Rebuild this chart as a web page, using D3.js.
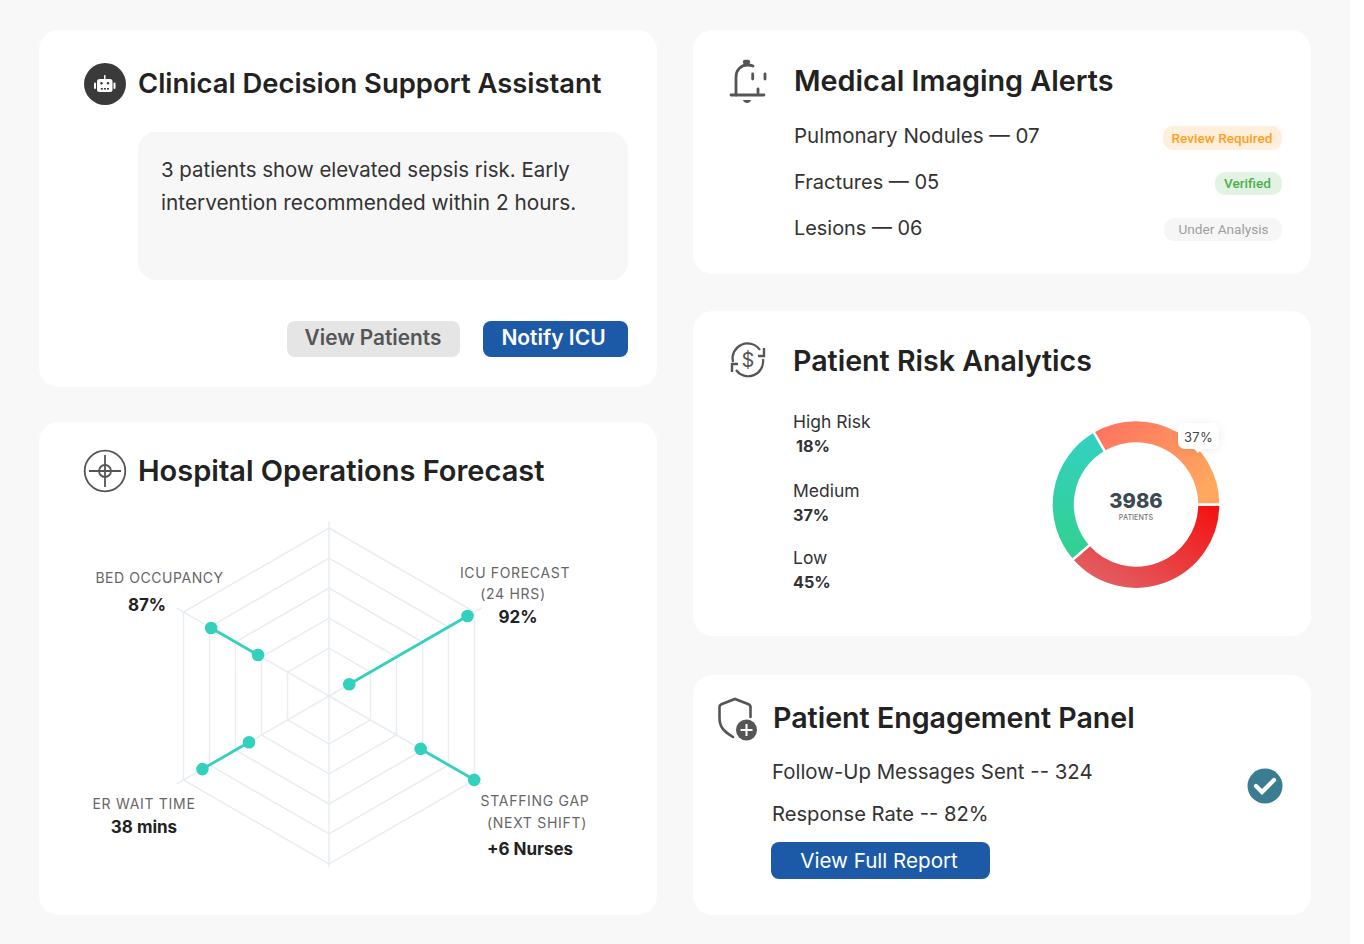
<!DOCTYPE html>
<html>
<head>
<meta charset="utf-8">
<script src="https://cdn.jsdelivr.net/npm/d3@7"></script>
<style>
html,body{margin:0;padding:0;background:#fff;}
svg{display:block;}
text{font-family:Inter,sans-serif;}
</style>
</head>
<body>
<svg id="chart" width="1364" height="944"></svg>
<script>
// radar values, percent of the outer ring
var radarAngles = [60, 120, 240, 300];
var radarInner = [13.9, 63, 55, 48.8];
var radarOuter = [95.2, 99.8, 87, 81];
var radarRings = [28.5, 46.4, 64.3, 82.1, 100];

// donut segments as drawn (they do not follow the printed legend)
var donutNames = ['red', 'green', 'orange'];
var donutValues = [38.6, 28, 33.4];

var riskLabels = ['High Risk', 'Medium', 'Low'];
var riskValues = ['18%', '37%', '45%'];

var alertLabels = ['Pulmonary Nodules — 07', 'Fractures — 05', 'Lesions — 06'];
var alertBadges = ['Review Required', 'Verified', 'Under Analysis'];

var svg = d3.select('#chart');
var defs = svg.append('defs');

function addText(g, str, x, y, size, weight, color, anchor, spacing){
    return g.append('text').attr('x', x).attr('y', y).text(str)
        .attr('font-size', size).attr('font-weight', weight).attr('fill', color)
        .attr('text-anchor', anchor || 'start')
        .attr('letter-spacing', spacing || 0);
}

function box(g, x0, y0, x1, y1, r, fill){
    return g.append('rect').attr('x', x0).attr('y', y0)
        .attr('width', x1 - x0).attr('height', y1 - y0)
        .attr('rx', r).attr('fill', fill);
}

// page, the reference leaves a white strip on the right
box(svg, 0, 0, 1350, 944, 0, '#f8f8f8');

// cards
box(svg, 39, 30, 657, 387, 20, '#fff');
box(svg, 39, 422, 657, 915, 20, '#fff');
box(svg, 693, 30, 1311, 274, 20, '#fff');
box(svg, 693, 311, 1311, 636, 20, '#fff');
box(svg, 693, 675, 1311, 915, 20, '#fff');

var titleColor = '#222';
addText(svg, 'Clinical Decision Support Assistant', 138, 93, 27.4, 600, titleColor);
addText(svg, 'Hospital Operations Forecast', 138, 480.5, 29, 600, titleColor);
addText(svg, 'Medical Imaging Alerts', 794, 90.5, 28.8, 600, titleColor);
addText(svg, 'Patient Risk Analytics', 793, 371, 28.6, 600, titleColor);
addText(svg, 'Patient Engagement Panel', 773, 728, 28.6, 600, titleColor);

// assistant card
box(svg, 138, 132, 628, 280, 18, '#f7f7f7');
addText(svg, '3 patients show elevated sepsis risk. Early', 161, 177, 20.45, 400, '#333');
addText(svg, 'intervention recommended within 2 hours.', 161, 210, 20.8, 400, '#333');
box(svg, 287, 321, 460, 357, 8, '#e5e5e5');
addText(svg, 'View Patients', 373, 345, 20.8, 600, '#555', 'middle');
box(svg, 483, 321, 628, 357, 8, '#1c5aa8');
addText(svg, 'Notify ICU', 553.5, 345, 21, 600, '#fff', 'middle');

// robot icon
var robot = svg.append('g').attr('transform', 'translate(105,84)');
robot.append('circle').attr('r', 21).attr('fill', '#3a3a3a');
box(robot, -8, -5, 7.5, 8, 2.5, '#fff');
box(robot, -11, -1.5, -9, 5, 1, '#fff');
box(robot, 8.5, -1.5, 10.5, 5, 1, '#fff');
box(robot, -1, -9, 0.5, -5, 0.5, '#fff');
robot.selectAll('circle.eye').data([-3.5, 3]).join('circle')
    .attr('class', 'eye').attr('cx', function(d){ return d; }).attr('cy', -0.8)
    .attr('r', 1.2).attr('fill', '#3a3a3a');
robot.selectAll('rect.mouth').data([-4.2, -1.1, 2]).join('rect')
    .attr('class', 'mouth').attr('x', function(d){ return d; }).attr('y', 4)
    .attr('width', 2).attr('height', 1.6).attr('fill', '#3a3a3a');

// target icon
var target = svg.append('g').attr('transform', 'translate(105,471)')
    .attr('fill', 'none').attr('stroke', '#555').attr('stroke-width', 1.8);
target.append('circle').attr('r', 20.3);
target.append('circle').attr('r', 6);
target.append('path').attr('d', 'M-16 0H16M0-16V16');

// alerts card
var alertRows = [136, 182, 228];
var alertSizes = [20.5, 20, 19.9];
alertLabels.forEach(function(label, i){
    addText(svg, label, 794, alertRows[i] + 6.5, alertSizes[i], 400, '#333');
});
var badgeBoxes = [[1163, 126, 1282, 150, '#ffefdc', '#ff9f1c', 500, 1222], [1215, 172, 1282, 195, '#e3f3e3', '#4caf50', 500, 1247.5], [1164, 218, 1282, 241, '#f6f6f6', '#9e9e9e', 400, 1223.5]];
alertBadges.forEach(function(label, i){
    var b = badgeBoxes[i];
    box(svg, b[0], b[1], b[2], b[3], 10, b[4]);
    addText(svg, label, b[7], (b[1] + b[3]) / 2 + 4.5, 13.6, b[6], b[5], 'middle')
        .style('font-family', 'Roboto');
});

// bell icon
var bell = svg.append('g').attr('transform', 'translate(748,80)')
    .attr('fill', 'none').attr('stroke', '#555').attr('stroke-width', 2.8).attr('stroke-linecap', 'round');
bell.append('path').attr('d', 'M-12 15V-3C-12-10-7-15-1-15C1-15 3-15 5-14');
bell.append('path').attr('d', 'M-17 15H16');
bell.append('path').attr('d', 'M10 9V13');
bell.append('path').attr('d', 'M4.7-6V-1M17-6V-1');
bell.append('path').attr('d', 'M-3-18L0-18').attr('stroke-width', 4.4);
bell.append('path').attr('d', 'M-5 20H3C2 24-4 24-5 20Z').attr('fill', '#555').attr('stroke', 'none');

// dollar icon
var dollar = svg.append('g').attr('transform', 'translate(748,360)')
    .attr('fill', 'none').attr('stroke', '#555').attr('stroke-width', 2.2);
dollar.append('path').attr('d', 'M-15 2A15 15 0 0 1 12-10');
dollar.append('path').attr('d', 'M15-1A15 15 0 0 1-12 10');
dollar.append('path').attr('d', 'M10-4H16V-12M-16 12V4H-10').attr('stroke-width', 2.4);
addText(dollar, '$', 0, 7, 20, 400, '#555', 'middle').attr('stroke', 'none');

// shield icon
var shield = svg.append('g').attr('transform', 'translate(735,718)');
shield.append('path').attr('d', 'M-2 19C-10 14-15.5 10-15.5 0V-11Q-15.5-13-13-14L0-19L13-14Q15.5-13 15.5-11V-1')
    .attr('fill', 'none').attr('stroke', '#555').attr('stroke-width', 2.6).attr('stroke-linecap', 'round');
shield.append('circle').attr('cx', 11.5).attr('cy', 12).attr('r', 10.5).attr('fill', '#555');
shield.append('path').attr('d', 'M5.5 12H17.5M11.5 6V18').attr('stroke', '#fff').attr('stroke-width', 2);

// engagement card
addText(svg, 'Follow-Up Messages Sent -- 324', 772, 779, 20.4, 400, '#333');
addText(svg, 'Response Rate -- 82%', 772, 820.5, 20.2, 400, '#333');
box(svg, 771, 842, 990, 879, 8, '#1c5aa8');
addText(svg, 'View Full Report', 879, 867.5, 20.6, 400, '#fff', 'middle');
var tick = svg.append('g').attr('transform', 'translate(1265,786)');
tick.append('circle').attr('r', 17.5).attr('fill', '#3b7d90');
tick.append('path').attr('d', 'M-9 0L-3 6L9-6').attr('fill', 'none').attr('stroke', '#fff').attr('stroke-width', 4.2).attr('stroke-linecap', 'round');

// radar
var radar = svg.append('g').attr('transform', 'translate(329,696)');
var rScale = d3.scaleLinear().domain([0, 100]).range([0, 168]);
var spokeAngles = d3.range(0, 360, 60);
var spokeEnds = [104, 105, 105, 102, 105, 105];
var toRad = function(d){ return d * Math.PI / 180; };
var gridLine = d3.lineRadial().angle(function(d){ return toRad(d[0]); }).radius(function(d){ return rScale(d[1]); }).curve(d3.curveLinearClosed);

radar.selectAll('path.ring').data(radarRings).join('path')
    .attr('class', 'ring')
    .attr('d', function(v){ return gridLine(spokeAngles.map(function(a){ return [a, v]; })); })
    .attr('fill', 'none').attr('stroke', '#e8edf4').attr('stroke-width', 1.5);
radar.selectAll('line.spoke').data(spokeAngles).join('line')
    .attr('class', 'spoke')
    .attr('x2', function(a, i){ return px(a, spokeEnds[i]); })
    .attr('y2', function(a, i){ return py(a, spokeEnds[i]); })
    .attr('stroke', '#e8edf4').attr('stroke-width', 1.5);

function px(a, v){ return rScale(v) * Math.sin(toRad(a)); }
function py(a, v){ return -rScale(v) * Math.cos(toRad(a)); }
radarAngles.forEach(function(a, i){
    radar.append('line')
        .attr('x1', px(a, radarInner[i])).attr('y1', py(a, radarInner[i]))
        .attr('x2', px(a, radarOuter[i])).attr('y2', py(a, radarOuter[i]))
        .attr('stroke', '#33d1bd').attr('stroke-width', 2.8);
    [radarInner[i], radarOuter[i]].forEach(function(v){
        radar.append('circle').attr('cx', px(a, v)).attr('cy', py(a, v)).attr('r', 6.3).attr('fill', '#33d1bd');
    });
});

var labelColor = '#666', valueColor = '#222';
addText(svg, 'BED OCCUPANCY', 159.5, 583, 14, 400, labelColor, 'middle', 0.55);
addText(svg, '87%', 147, 611, 17, 700, valueColor, 'middle');
addText(svg, 'ICU FORECAST', 515, 578, 14, 400, labelColor, 'middle', 0.65);
addText(svg, '(24 HRS)', 513, 599, 14, 400, labelColor, 'middle', 0.7);
addText(svg, '92%', 518, 623, 17, 700, valueColor, 'middle');
addText(svg, 'ER WAIT TIME', 144, 809, 14, 400, labelColor, 'middle', 0.7);
addText(svg, '38 mins', 144, 833, 17, 700, valueColor, 'middle');
addText(svg, 'STAFFING GAP', 535, 806, 14, 400, labelColor, 'middle', 0.7);
addText(svg, '(NEXT SHIFT)', 537, 828, 14, 400, labelColor, 'middle', 0.7);
addText(svg, '+6 Nurses', 530, 855, 17, 700, valueColor, 'middle');

// risk legend
var riskRows = [428, 496.5, 564];
var riskX = [796, 793, 793];
riskLabels.forEach(function(label, i){
    addText(svg, label, 793, riskRows[i], 17.5, 400, '#333');
    addText(svg, riskValues[i], riskX[i], riskRows[i] + 24, 16.2, 700, '#333');
});

// donut
function gradient(id, x1, y1, x2, y2, from, to){
    var g = defs.append('linearGradient').attr('id', id)
        .attr('x1', x1).attr('y1', y1).attr('x2', x2).attr('y2', y2);
    g.append('stop').attr('offset', 0).attr('stop-color', from);
    g.append('stop').attr('offset', 1).attr('stop-color', to);
}
gradient('red', 1, 0, 0, 1, '#f40f0f', '#df6a6f');
gradient('green', 0, 0, 0, 1, '#33d1c1', '#33d08f');
gradient('orange', 0, 0, 1, 0.6, '#ff6f61', '#ffa75e');

var donut = svg.append('g').attr('transform', 'translate(1136,504.5)');
var pie = d3.pie().sort(null).startAngle(Math.PI / 2).endAngle(Math.PI * 2.5);
var arc = d3.arc().innerRadius(61).outerRadius(84.5);
donut.selectAll('path').data(pie(donutValues)).join('path')
    .attr('d', arc)
    .attr('fill', function(d, i){ return 'url(#' + donutNames[i] + ')'; })
    .attr('stroke', '#fff').attr('stroke-width', 2.4);
addText(donut, '3986', 0, 3, 20.2, 800, '#3d4a54', 'middle');
addText(donut, 'PATIENTS', 0, 15.5, 7.2, 500, '#777', 'middle');

// callout
var shadow = defs.append('filter').attr('id', 'soft').attr('x', '-40%').attr('y', '-40%').attr('width', '180%').attr('height', '180%');
shadow.append('feDropShadow').attr('dx', 0).attr('dy', 1).attr('stdDeviation', 4).attr('flood-color', '#000').attr('flood-opacity', 0.08);
var callout = svg.append('g').attr('filter', 'url(#soft)');
box(callout, 1178, 423, 1219, 449, 7, '#fff');
callout.append('path').attr('d', 'M1194 449L1198 453L1202 449Z').attr('fill', '#fff');
addText(svg, '37%', 1198.5, 442, 13, 400, '#444', 'middle', 0.3);
</script>
</body>
</html>
